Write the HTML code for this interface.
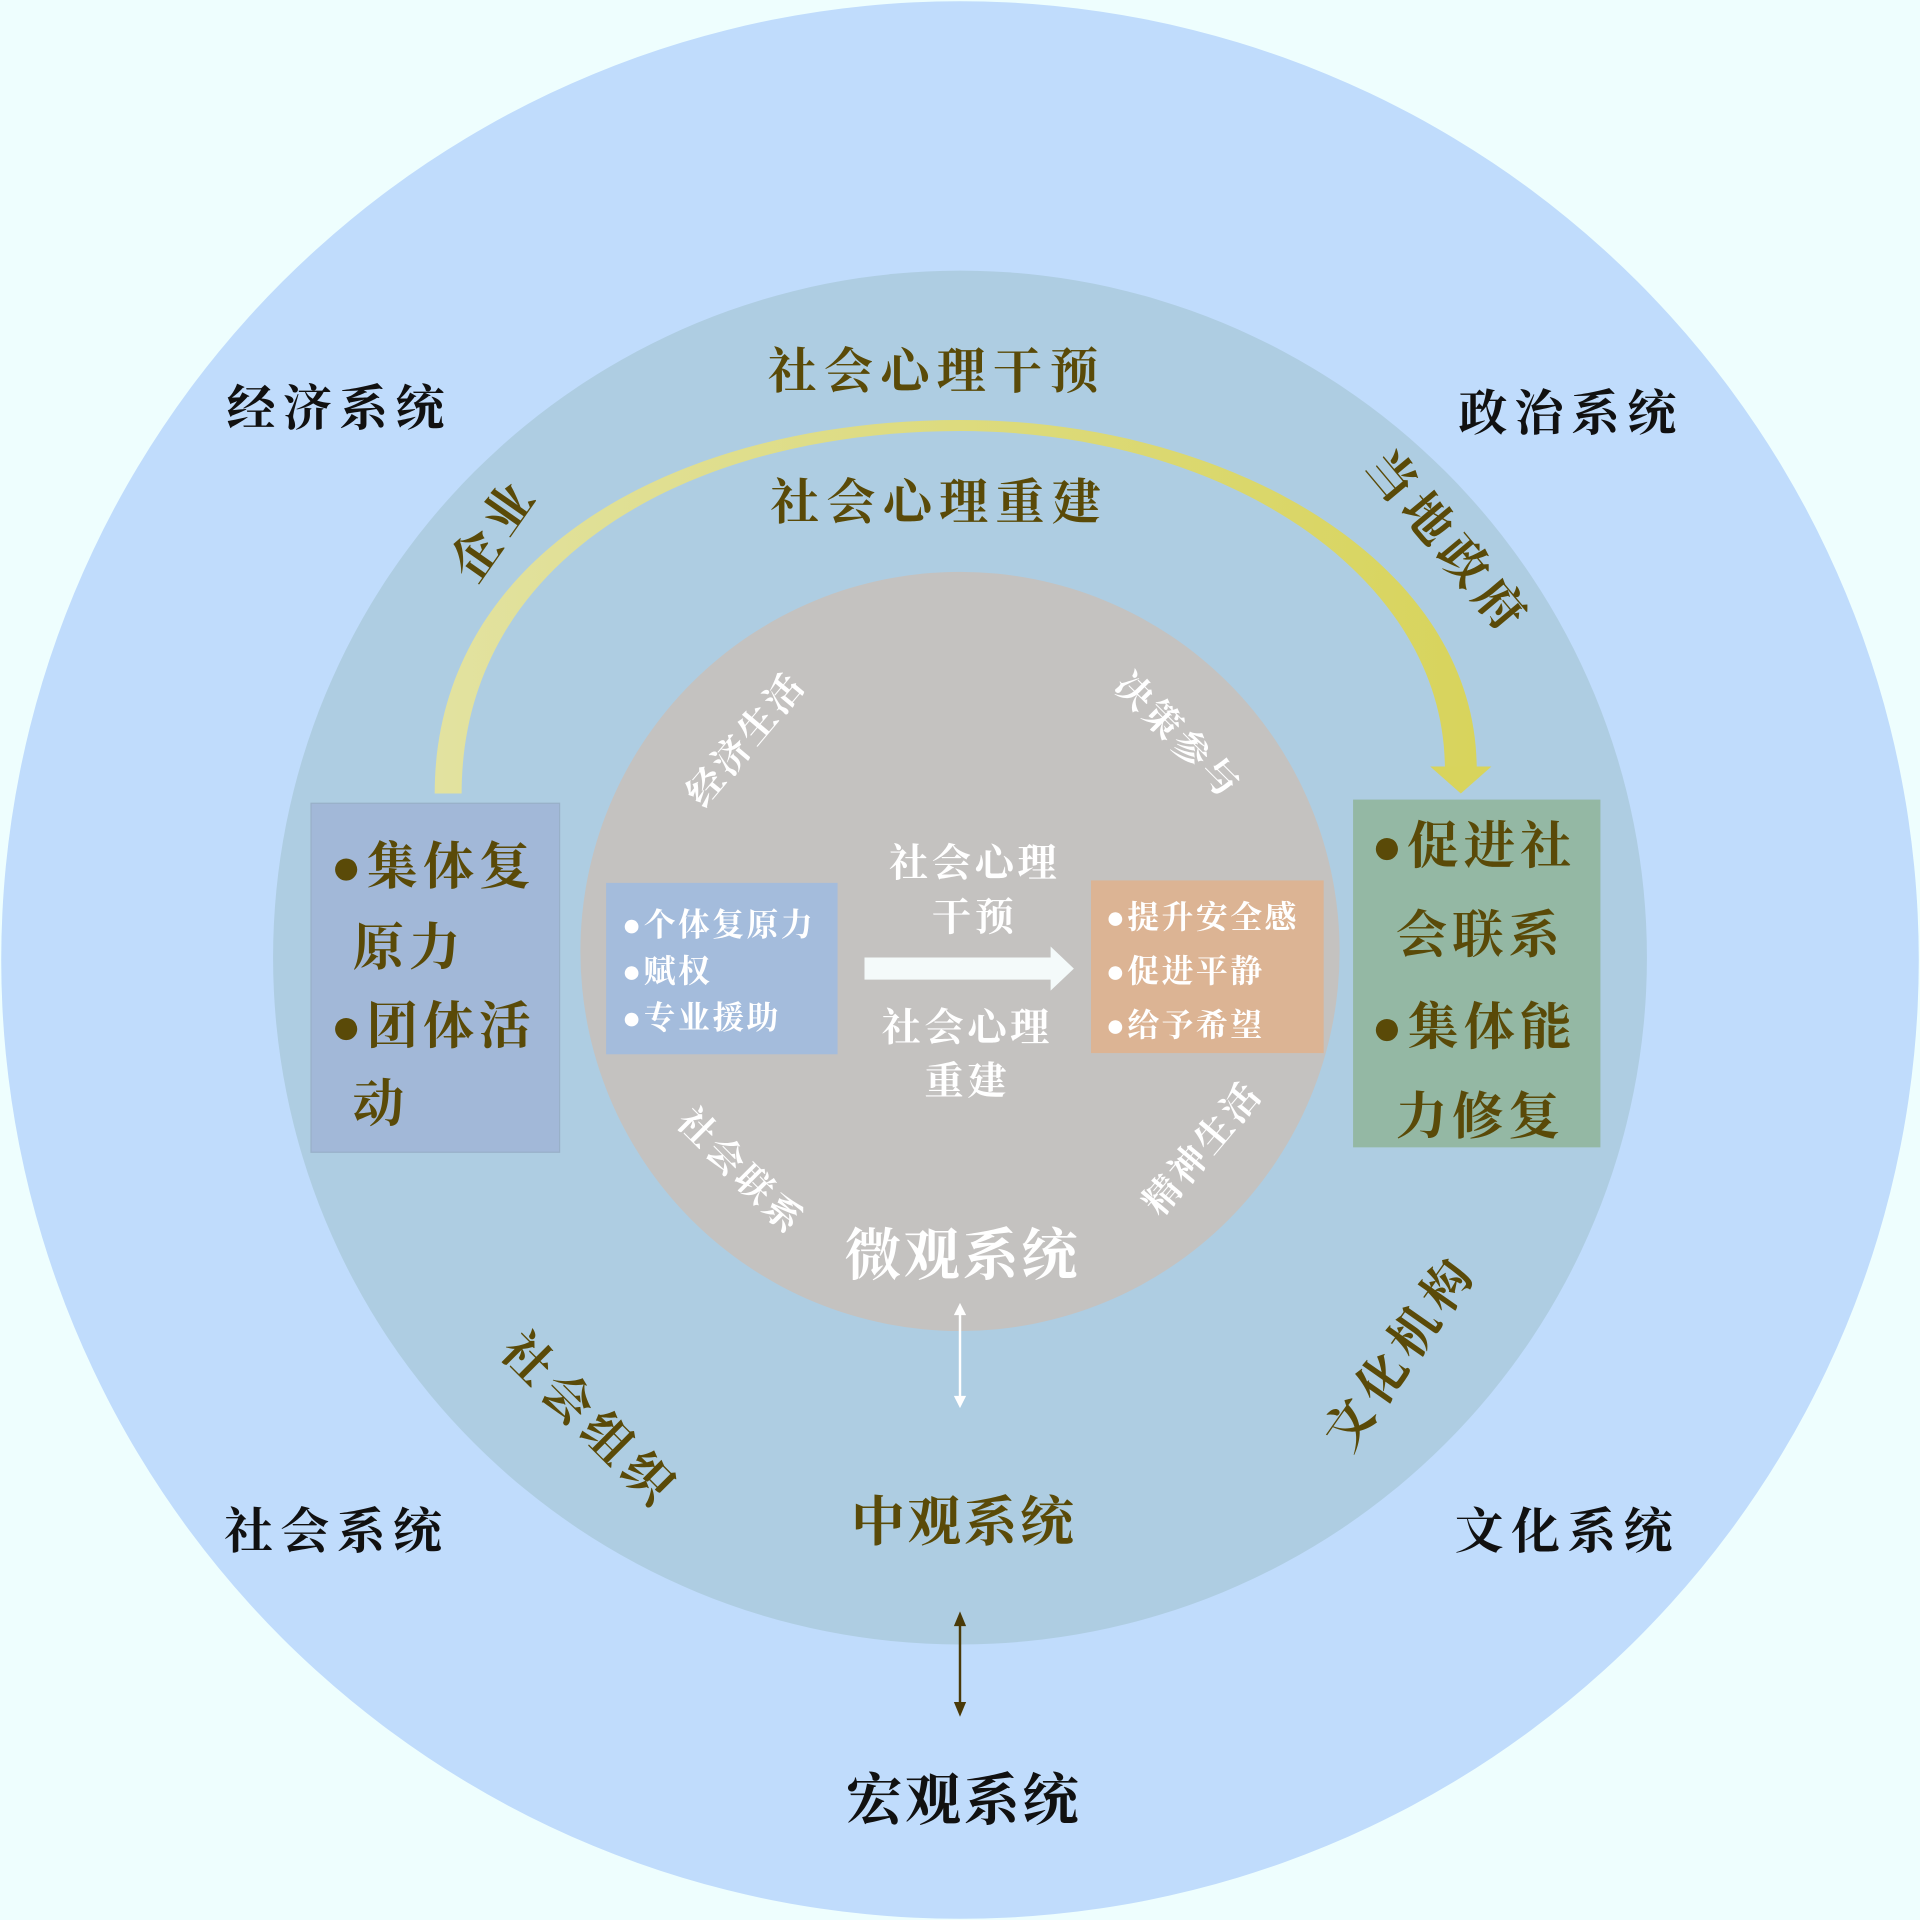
<!DOCTYPE html>
<html><head><meta charset="utf-8"><style>
html,body{margin:0;padding:0;background:#eefefe;}
svg{display:block}
text{font-family:"Liberation Serif","Noto Serif CJK SC",serif;font-weight:bold;}
</style></head><body>
<svg width="1920" height="1920" viewBox="0 0 1568 1568" xmlns="http://www.w3.org/2000/svg">
<defs>
<linearGradient id="g" x1="0" x2="1" y1="0" y2="0"><stop offset="0" stop-color="#e2e2a0"/><stop offset="1" stop-color="#d8d45c"/></linearGradient>
</defs>
<rect width="1568" height="1568" fill="#eefefe"/>
<circle cx="784" cy="784" r="783" fill="#c0dcfc"/>
<circle cx="784" cy="782" r="561" fill="#aecde2"/>
<circle cx="784" cy="777" r="310" fill="#c4c2c0"/>
<path d="M355,648 C355,450 555,343 784,343 C1005,343 1206,460 1206,628 L1180,628 C1180,470 1000,352 784,352 C565,352 377,455 377,648 Z" fill="url(#g)"/>
<polygon points="1168,626 1218,626 1193,648" fill="#d8d45c"/>
<g fill="#5a4a08" font-size="40" text-anchor="middle" letter-spacing="6">
<text x="765" y="317">社会心理干预</text>
<text x="767" y="424">社会心理重建</text>
<text transform="translate(415,440) rotate(-55)">企业</text>
<text transform="translate(1172,452) rotate(50)">当地政府</text>
<text transform="translate(472,1170) rotate(45)">社会组织</text>
<text transform="translate(1155,1112) rotate(-55)">文化机构</text>
<text x="787" y="1258" font-size="44" letter-spacing="2">中观系统</text>
</g>
<g fill="#111" font-size="40" text-anchor="middle" letter-spacing="6">
<text x="277" y="347">经济系统</text>
<text x="1283" y="351">政治系统</text>
<text x="275" y="1264">社会系统</text>
<text x="1280" y="1264">文化系统</text>
<text x="787" y="1486" font-size="46" letter-spacing="2">宏观系统</text>
</g>
<g fill="#fff" font-size="30" text-anchor="middle" letter-spacing="3">
<text transform="translate(617,610) rotate(-50)">经济生活</text>
<text transform="translate(955,608) rotate(45)">决策参与</text>
<text transform="translate(598,964) rotate(45)">社会联系</text>
<text transform="translate(990,944) rotate(-50)">精神生活</text>
<text x="786" y="1041" font-size="46" letter-spacing="2">微观系统</text>
<text x="796" y="716" font-size="32">社会心理</text>
<text x="796" y="760" font-size="32">干预</text>
<text x="790" y="850" font-size="32">社会心理</text>
<text x="790" y="894" font-size="32">重建</text>
</g>
<rect x="254" y="656" width="203" height="285" fill="#a2b8d8" stroke="#98b0c8"/>
<rect x="1105" y="653" width="202" height="284" fill="#94b8a4"/>
<g fill="#5a4a08" font-size="42" letter-spacing="4">
<text x="270" y="722">●集体复</text>
<text x="288" y="788">原力</text>
<text x="270" y="852">●团体活</text>
<text x="288" y="916">动</text>
<text x="1120" y="705">●促进社</text>
<text x="1140" y="778">会联系</text>
<text x="1120" y="853">●集体能</text>
<text x="1140" y="926">力修复</text>
</g>
<rect x="495" y="721" width="189" height="140" fill="#a4bcdc"/>
<rect x="891" y="719" width="190" height="141" fill="#dcb494"/>
<g fill="#fff" font-size="26" letter-spacing="2">
<text x="508" y="764">●个体复原力</text>
<text x="508" y="802">●赋权</text>
<text x="508" y="840">●专业援助</text>
<text x="903" y="758">●提升安全感</text>
<text x="903" y="802">●促进平静</text>
<text x="903" y="846">●给予希望</text>
</g>
<polygon points="706,782 858,782 858,773 877,791 858,809 858,800 706,800" fill="#f4fafa"/>
<g stroke="#fff" stroke-width="2" fill="#fff">
<line x1="784" y1="1072" x2="784" y2="1142"/>
<polygon points="779,1074 789,1074 784,1064" stroke="none"/>
<polygon points="779,1140 789,1140 784,1150" stroke="none"/>
</g>
<g stroke="#4a3a08" stroke-width="2" fill="#4a3a08">
<line x1="784" y1="1326" x2="784" y2="1392"/>
<polygon points="779,1328 789,1328 784,1316" stroke="none"/>
<polygon points="779,1390 789,1390 784,1402" stroke="none"/>
</g>
</svg>
</body></html>
